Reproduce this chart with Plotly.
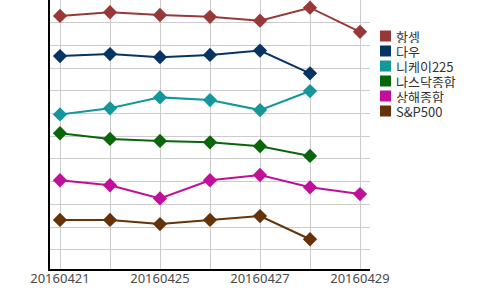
import plotly.graph_objects as go

dates = ["20160421", "20160422", "20160425", "20160426", "20160427", "20160428", "20160429"]
tick_labels = ["20160421", "", "20160425", "", "20160427", "", "20160429"]

series_names = ["항셍", "다우", "니케이225", "나스닥종합", "상해종합", "S&P500"]
hangseng = [11.30, 11.46, 11.34, 11.26, 11.09, 11.66, 10.60]
dow = [9.53, 9.62, 9.48, 9.58, 9.77, 8.77]
nikkei = [6.96, 7.23, 7.71, 7.59, 7.15, 7.99]
nasdaq = [6.13, 5.88, 5.79, 5.73, 5.56, 5.13]
shanghai = [4.06, 3.84, 3.26, 4.06, 4.29, 3.75, 3.45]
sp500 = [2.31, 2.31, 2.13, 2.31, 2.48, 1.46]
colors = ["#983838", "#063563", "#13979A", "#0A660A", "#C0109A", "#663308"]

all_series = [hangseng, dow, nikkei, nasdaq, shanghai, sp500]

fig = go.Figure()
for name, vals, c in zip(series_names, all_series, colors):
    fig.add_trace(go.Scatter(
        x=dates[:len(vals)], y=vals, name=name, mode="lines+markers",
        line=dict(color=c, width=2),
        marker=dict(symbol="diamond", size=11, color=c),
        showlegend=False,
    ))

# manual legend
W, H = 500, 290
ml, mr, mt, mb = 50, 130, 0, 21
pw, ph = W - ml - mr, H - mt - mb
def px2x(px):
    return (px - ml) / pw
def py2y(py):
    return (H - mb - py) / ph

shapes = []
annotations = []
for i, (name, c) in enumerate(zip(series_names, colors)):
    cy = 36 + 15 * i
    shapes.append(dict(type="rect", xref="paper", yref="paper",
                       x0=px2x(380), x1=px2x(391), y0=py2y(cy + 5.5), y1=py2y(cy - 5.5),
                       fillcolor=c, line=dict(width=0)))
    annotations.append(dict(xref="paper", yref="paper", x=px2x(395), y=py2y(cy),
                            xanchor="left", yanchor="middle", text=name, showarrow=False,
                            height=14, valign="middle", borderpad=0,
                            font=dict(size=13, color="#333333", family="Noto Sans CJK KR")))

fig.update_layout(
    width=W, height=H,
    margin=dict(l=ml, r=mr, t=mt, b=mb, pad=0),
    plot_bgcolor="white", paper_bgcolor="white",
    shapes=shapes, annotations=annotations,
    font=dict(family="Noto Sans CJK KR", size=12, color="#444444"),
    xaxis=dict(type="category", range=[-0.2, 6.2], tickmode="array",
               tickvals=dates, ticktext=tick_labels,
               showgrid=True, gridcolor="#CCCCCC", gridwidth=1,
               showline=True, linecolor="#000000", linewidth=2,
               ticks="", ticklabelstandoff=-4,
               tickfont=dict(size=13, color="#4a4a4a", family="Noto Sans"), zeroline=False),
    yaxis=dict(range=[0.15, 12.0], tick0=0, dtick=1, showticklabels=False,
               showgrid=True, gridcolor="#CCCCCC", gridwidth=1,
               showline=True, linecolor="#000000", linewidth=2,
               ticks="", zeroline=False),
)

fig.write_html("out.html")
